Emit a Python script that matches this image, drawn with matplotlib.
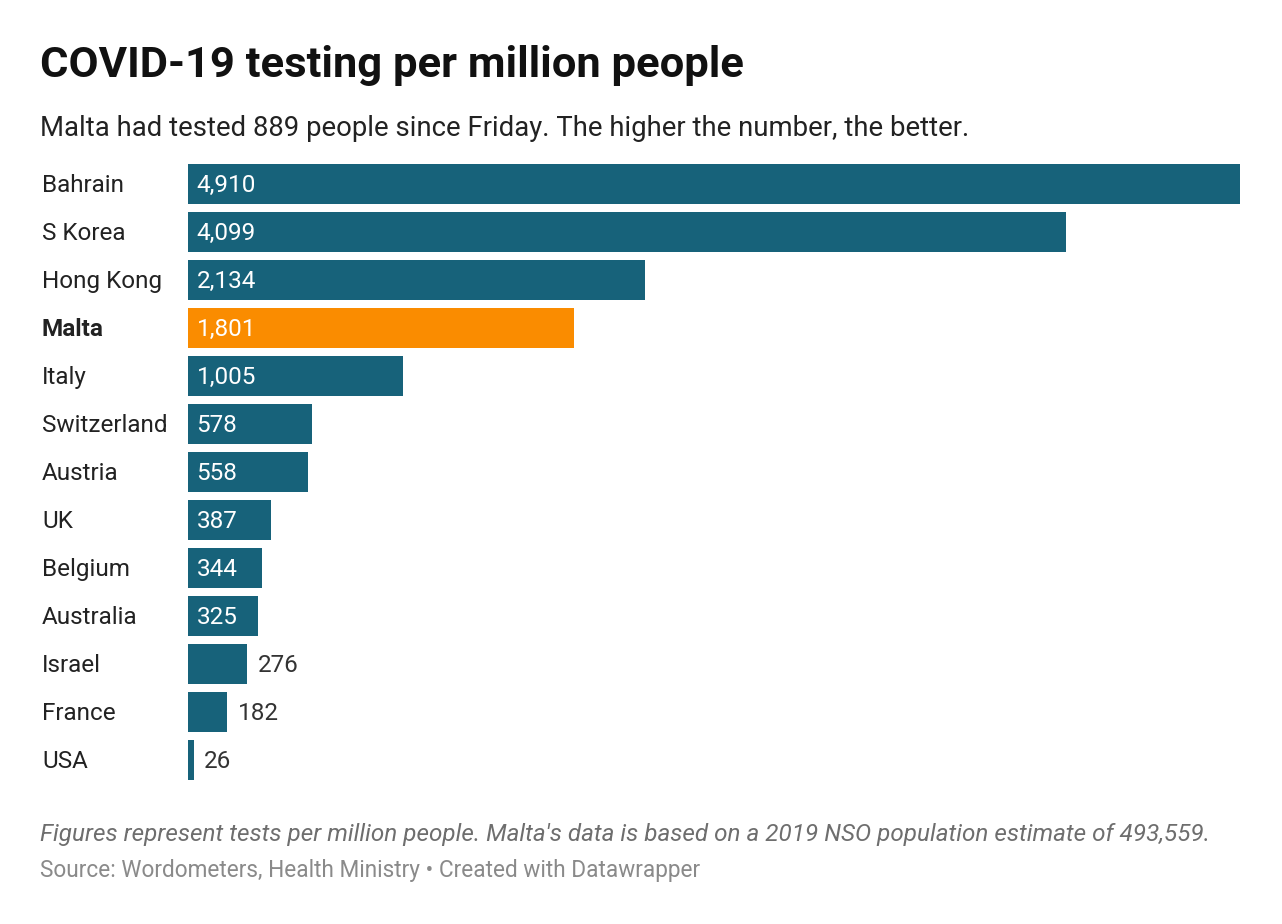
import matplotlib.pyplot as plt

plt.rcParams['font.family'] = ['Roboto', 'DejaVu Sans']

countries = ['Bahrain', 'S Korea', 'Hong Kong', 'Malta', 'Italy', 'Switzerland',
             'Austria', 'UK', 'Belgium', 'Australia', 'Israel', 'France', 'USA']
tests_per_million = [4910, 4099, 2134, 1801, 1005, 578, 558, 387, 344, 325, 276, 182, 26]
highlight = 'Malta'

TEAL = '#17627a'
ORANGE = '#fa8c00'
DARK = '#222222'

W, H = 1282, 924
fig = plt.figure(figsize=(W / 100, H / 100), dpi=100)
fig.patch.set_facecolor('white')

# axes placed in pixel terms
left, right, top, bottom = 188, 1240, 160, 784
ax = fig.add_axes([left / W, 1 - bottom / H, (right - left) / W, (bottom - top) / H])

ypos = range(len(countries))
colors = [ORANGE if c == highlight else TEAL for c in countries]
ax.barh(ypos, tests_per_million, height=40 / 48, color=colors)
ax.set_xlim(0, max(tests_per_million))
ax.set_ylim(len(countries) - 0.5, -0.5)
ax.axis('off')

# shift text down a touch so it sits like the reference
dy = -1.3
for i, (c, v) in enumerate(zip(countries, tests_per_million)):
    weight = 'bold' if c == highlight else 'normal'
    # country name, 42px from the left edge of the figure
    ax.annotate(c, xy=(0, i), xycoords=('figure fraction', 'data'),
                xytext=(42 * 0.72, dy), textcoords='offset points',
                fontsize=17.5, color=DARK, weight=weight, va='center', ha='left')
    label = f'{v:,}'
    if v >= 300:
        ax.annotate(label, xy=(0, i), xytext=(6.2, dy), textcoords='offset points',
                    fontsize=17.5, color='white', va='center', ha='left')
    else:
        ax.annotate(label, xy=(v, i), xytext=(7.7, dy), textcoords='offset points',
                    fontsize=17.5, color='#333333', va='center', ha='left')

fig.text(40 / W, 1 - 66 / H, 'COVID-19 testing per million people',
         fontsize=31.3, weight='bold', color='#111111', va='center', ha='left')
fig.text(40 / W, 1 - 128 / H,
         'Malta had tested 889 people since Friday. The higher the number, the better.',
         fontsize=19.8, color=DARK, va='center', ha='left')
fig.text(40 / W, 1 - 835 / H,
         "Figures represent tests per million people. Malta's data is based on a 2019 NSO population estimate of 493,559.",
         fontsize=17.5, style='italic', color='#6e6e6e', va='center', ha='left')
fig.text(40 / W, 1 - 871 / H,
         'Source: Wordometers, Health Ministry \u2022 Created with Datawrapper',
         fontsize=16.25, color='#8a8a8a', va='center', ha='left')

fig.savefig('out.png', dpi=100, facecolor='white')
